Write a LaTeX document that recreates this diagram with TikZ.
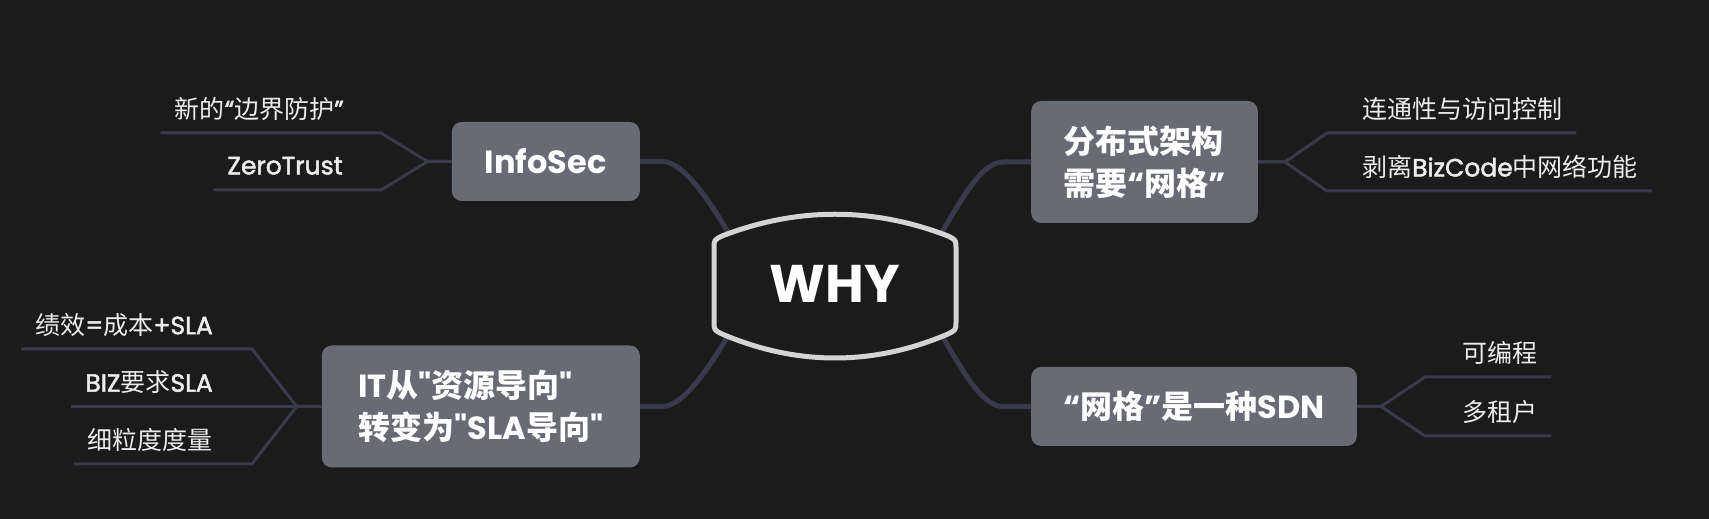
\documentclass[tikz,border=0pt]{standalone}
\usepackage{fontspec}
\setmainfont{Poppins}[Ligatures=TeXOff]
\newfontfamily\cjk{Noto Sans CJK SC}
\newfontfamily\leaflat[FakeBold=2]{Poppins}
\definecolor{canvas}{HTML}{1B1B1B}
\definecolor{topicgray}{HTML}{686B74}
\definecolor{wire}{HTML}{383A4B}
\definecolor{hubring}{HTML}{D4D4D4}
\definecolor{leafwhite}{HTML}{ECECEC}
\tikzset{
  topic/.style={fill=topicgray,rounded corners=10pt,text=white,inner xsep=32pt,inner ysep=0pt,
    minimum height=79pt,align=left,font=\bfseries\fontsize{32}{42}\selectfont},
  leafl/.style={anchor=south east,text=leafwhite,inner xsep=14pt,inner ysep=0pt,
    minimum height=48pt,font=\leaflat\fontsize{25}{30}\selectfont},
  leafr/.style={leafl,anchor=south west},
  trunk/.style={draw=wire,line width=5pt},
  twig/.style={draw=wire,line width=3pt},
  hubline/.style={draw=hubring,line width=5pt,line join=round}
}

\begin{document}
\begin{tikzpicture}[x=1pt,y=1pt]
\fill[canvas] (0,0) rectangle (1709,519);
\useasboundingbox (0,0) rectangle (1709,519);

\node[text=white,font=\bfseries\fontsize{53}{60}\selectfont,minimum width=214pt,minimum height=104pt] (why) at (835,235) {WHY};

\node[topic,anchor=east,minimum width=188pt] (info) at (640,357.5) {InfoSec};
\node[topic,anchor=east,minimum width=318pt,minimum height=122pt] (it) at (640,112.5) {IT{\cjk 从}"{\cjk 资源导向}"\\{\cjk 转变为}"SLA{\cjk 导向}"};
\node[topic,anchor=west,minimum width=223pt,minimum height=122pt] (mesh) at (1031,357) {{\cjk 分布式架构}\\{\cjk 需要}“{\cjk 网格}”};
\node[topic,anchor=west,minimum width=324pt] (sdn) at (1031,112.5) {“{\cjk 网格}”{\cjk 是一种}SDN};

\node[leafl] (info1) at (358,386) {{\cjk 新的}“{\cjk 边界防护}”};
\node[leafl] (info2) at (357,329) {ZeroTrust};
\node[leafl] (it1) at (227,170) {{\cjk 绩效}={\cjk 成本}+SLA};
\node[leafl] (it2) at (227,112.5) {BIZ{\cjk 要求}SLA};
\node[leafl] (it3) at (227,55) {{\cjk 细粒度度量}};
\node[leafr] (mesh1) at (1348,386) {{\cjk 连通性与访问控制}};
\node[leafr] (mesh2) at (1348,328) {{\cjk 剥离}BizCode{\cjk 中网络功能}};
\node[leafr] (sdn1) at (1448,142) {{\cjk 可编程}};
\node[leafr] (sdn2) at (1448,83) {{\cjk 多租户}};

\coordinate (infofork) at (381,357.5);
\coordinate (itfork) at (252,112.5);
\coordinate (meshfork) at (1327,357);
\coordinate (sdnfork) at (1425,112.5);

\foreach \n in {info1,info2}
  \draw[twig] (info.west) -- ++(-24,0) -- (infofork |- \n.south) -- (\n.south west);
\foreach \n in {it1,it2,it3}
  \draw[twig] (it.west) -- ++(-25,0) -- (itfork |- \n.south) -- (\n.south west);
\foreach \n in {mesh1,mesh2}
  \draw[twig] (mesh.east) -- ++(27,0) -- (meshfork |- \n.south) -- (\n.south east);
\foreach \n in {sdn1,sdn2}
  \draw[twig] (sdn.east) -- ++(24,0) -- (sdnfork |- \n.south) -- (\n.south east);

\draw[trunk] (info.east) -- ++(22,0) .. controls +(22,0) and +(-18,30) .. (why.north west);
\draw[trunk] (it.east) -- ++(22,0) .. controls +(22,0) and +(-18,-30) .. (why.south west);
\draw[trunk] (mesh.west) -- ++(-28,0) .. controls +(-22,0) and +(18,30) .. (why.north east);
\draw[trunk] (sdn.west) -- ++(-28,0) .. controls +(-22,0) and +(18,-30) .. (why.south east);

% hub outline
\draw[hubline] (714,270) .. controls (714,279) .. (722,283)
  .. controls (797,312) and (873,312) .. (948,283)
  .. controls (956,279) .. (956,270) -- (956,198)
  .. controls (956,189) .. (948,185)
  .. controls (873,153) and (797,153) .. (722,185)
  .. controls (714,189) .. (714,198) -- cycle;
\end{tikzpicture}
\end{document}
